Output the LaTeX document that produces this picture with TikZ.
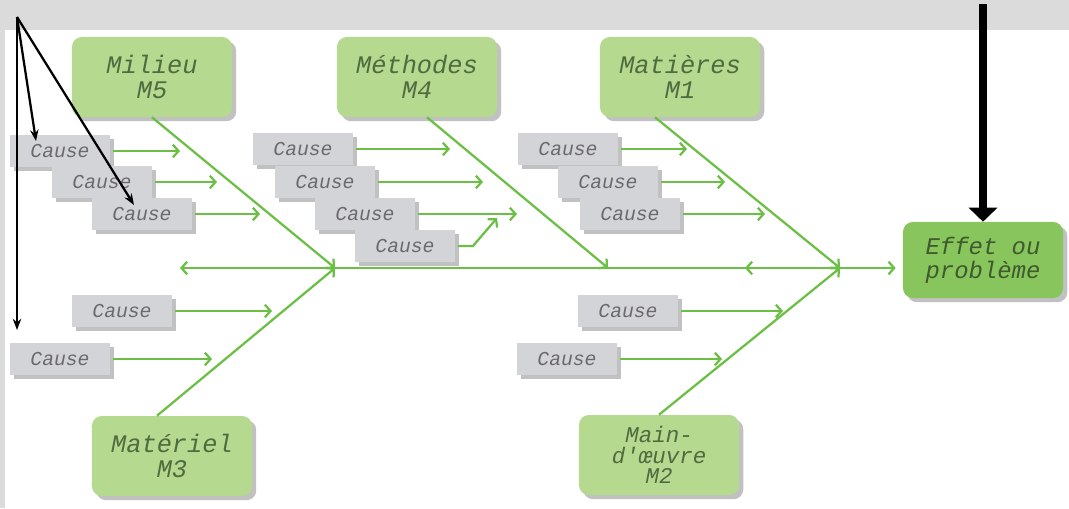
\documentclass[tikz,border=0pt]{standalone}
\usepackage{fontspec}
\setmonofont{Liberation Mono}
\usepackage{tikz}
\usetikzlibrary{arrows.meta,shadows,calc}
\definecolor{bandgray}{rgb}{0.86,0.86,0.86}
\definecolor{boxgreen}{HTML}{B5D98E}
\definecolor{effgreen}{HTML}{88C55C}
\definecolor{linegreen}{HTML}{6CBF45}
\definecolor{causegray}{HTML}{D3D4D8}
\definecolor{mtext}{HTML}{4F6B40}
\definecolor{etext}{HTML}{3E5A2E}
\definecolor{ctext}{HTML}{6A6A6A}

\begin{document}
\begin{tikzpicture}[x=0.025cm,y=-0.025cm,
    mbox/.style={rounded corners=7pt, fill=boxgreen, minimum width=4cm, minimum height=2cm,
      align=center, text=mtext, font=\fontsize{18}{18}\selectfont\ttfamily\itshape,
      drop shadow={shadow xshift=3pt,shadow yshift=-3pt,fill=black!30,opacity=0.8}},
    cause/.style={fill=causegray, minimum width=2.5cm, minimum height=0.8cm, text=ctext,
      font=\fontsize{14}{14}\selectfont\ttfamily\itshape,
      drop shadow={shadow xshift=3pt,shadow yshift=-3pt,fill=black!30,opacity=0.8}},
    gline/.style={draw=linegreen, line width=1.6pt},
    garrow/.style={gline, -{Straight Barb[length=4pt,width=9pt]}},
    karrow/.style={line width=1.6pt, -{Stealth[length=8pt,width=6pt]}}]
    \fill[white] (0,0) rectangle (1069,508);
    \fill[bandgray] (0,0) rectangle (1069,30); % top band
    \fill[bandgray] (0,30) rectangle (5,508);
    \useasboundingbox (0,0) rectangle (1069,508);

    \node[mbox] (m5) at (152,77) {Milieu\\M5};
    \node[mbox] (m4) at (417,77) {Méthodes\\M4};
    \node[mbox] (m1) at (680,77) {Matières\\M1};
    \node[mbox] (m3) at (172,456) {Matériel\\M3};
    \node[mbox, font=\fontsize{16}{14.5}\selectfont\ttfamily\itshape] (m2) at (659,455) {Main-\\d'œuvre\\M2};
    \node[mbox, fill=effgreen, minimum height=1.9cm, text=etext, font=\fontsize{17}{17}\selectfont\ttfamily\itshape] (effet) at (983,260) {Effet ou\\problème};

    \coordinate (spL) at (180,268);
    \coordinate (hubL) at (335,268);
    \coordinate (m4tip) at (608,268);
    \coordinate (back) at (745,268);
    \coordinate (hubR) at (840,268);

    % the spine
    \draw[gline, {Straight Barb[length=4pt,width=9pt]}-{Straight Barb[length=4pt,width=9pt]}, shorten >=5pt] (spL) -- (spL -| effet.west);
    \draw[garrow] (hubR) -- (back);
    \draw[garrow] (m5.south) -- (hubL);
    \draw[garrow] ($(m3.north)+(-15,0)$) -- (hubL);
    \draw[garrow] ($(m4.south)+(10,0)$) -- (m4tip);
    \draw[garrow] ($(m1.south)+(-25,0)$) -- (hubR);
    \draw[garrow] (m2.north) -- (hubR);

    \foreach \n/\x/\y/\t in {a1/60/151/180, a2/102/182/217, a3/142/214/260,
      b1/303/149/450, b2/325/182/483, b3/365/214/517,
      d1/568/149/687, d2/608/182/725, d3/630/214/765,
      e1/122/311/272, e2/60/359/212, f1/628/311/783, f2/567/359/722}
    {
      \node[cause] (\n) at (\x,\y) {Cause};
      \coordinate (\n t) at (\t,\y);
      \draw[garrow, shorten <=2pt] (\n) -- (\n t);
    }
    \node[cause] (b4) at (405,246) {Cause};
    \coordinate (b4k) at (473,246);
    \coordinate (b4t) at (497,218);
    \draw[garrow, shorten <=2pt] (b4) -- (b4k) -- (b4t);

    % black pointers
    \coordinate (src) at (17,17);
    \coordinate (ptA) at (36,141);
    \coordinate (ptB) at (134,205);
    \coordinate (ptC) at (17,330);
    \foreach \p in {ptA,ptB,ptC}
    \draw[karrow] (src) -- (\p);
    \coordinate (top) at (983,4);
    \draw[line width=5.5pt, -{Triangle[length=10pt,width=20pt]}] (top) -- (effet.north);
  \end{tikzpicture}
\end{document}
